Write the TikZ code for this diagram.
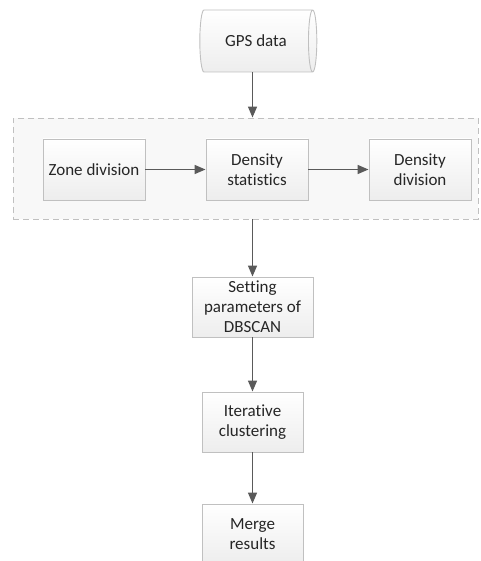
\documentclass[tikz,border=0pt]{standalone}
\usepackage{fontspec}
\setmainfont{Carlito}[Ligatures=NoCommon]
\usepackage{xcolor}
\usepackage{tikz}
\usetikzlibrary{shapes.geometric, arrows.meta, positioning}
\definecolor{fcline}{RGB}{192,192,192}
\definecolor{fcarrow}{RGB}{90,90,90}
\definecolor{fctext}{RGB}{38,38,38}
\definecolor{fcgroup}{RGB}{248,248,248}

\begin{document}
\begin{tikzpicture}[
  x=1pt, y=-1pt,
  every node/.style={font=\fontsize{17}{20}\selectfont, text=fctext},
  proc/.style={rectangle, draw=fcline, line width=0.9pt,
               top color=white, bottom color=black!7,
               minimum width=102pt, minimum height=61pt,
               align=center, inner sep=2pt},
  src/.style={cylinder, draw=fcline, line width=0.9pt, aspect=0.7,
              top color=white, bottom color=black!7,
              minimum width=62pt, minimum height=117pt, inner sep=0pt},
  group/.style={rectangle, draw=fcline, fill=fcgroup, line width=0.9pt,
                dash pattern=on 6pt off 4pt,
                minimum width=465pt, minimum height=101pt},
  flow/.style={-{Triangle[length=11pt, width=9pt]}, line width=1.4pt,
               color=fcarrow},
]
\useasboundingbox (0,0) rectangle (480,561);

% Source
\node[src] (gps) at (256, 41) {GPS data};

% Zone processing group
\node[group] (zones) at (245.5, 168.5) {};
\node[proc] (zdiv)  at (94,  169.5) {Zone division};
\node[proc] (dstat) at (257, 169.5) {Density\\statistics};
\node[proc] (ddiv)  at (420, 169.5) {Density\\division};

% Clustering steps
\node[proc, minimum width=121pt, minimum height=60pt] (param) at (252.5, 307) {Setting\\parameters of\\DBSCAN};
\node[proc, minimum width=101pt, minimum height=60pt] (iter)  at (252.5, 422) {Iterative\\clustering};
\node[proc, minimum width=101pt, minimum height=60pt] (merge) at (252.5, 534) {Merge\\results};

% ── Flows ──
\draw[flow] (gps.south -| param) -- (zones.north -| param);
\draw[flow] (zdiv)  -- (dstat);
\draw[flow] (dstat) -- (ddiv);
\draw[flow] (zones.south -| param) -- (param);
\draw[flow] (param) -- (iter);
\draw[flow] (iter)  -- (merge);

\end{tikzpicture}
\end{document}
